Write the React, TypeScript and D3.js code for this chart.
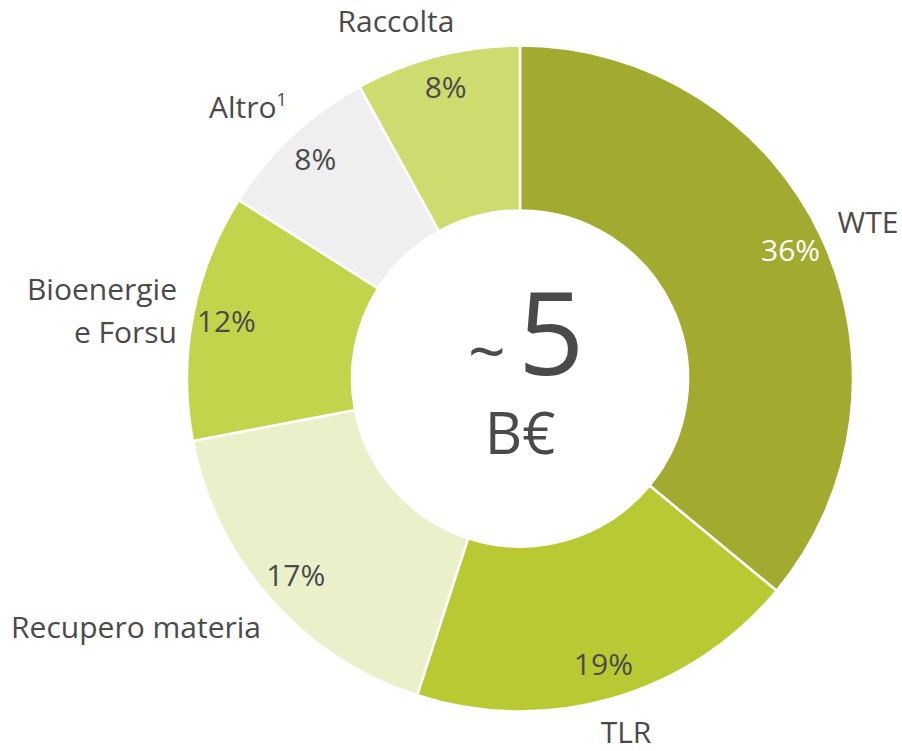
import React from "react";
import * as d3 from "d3";

const categories = ["WTE", "TLR", "Recupero materia", "Bioenergie e Forsu", "Altro", "Raccolta"];
const shares = [36, 19, 17, 12, 8, 8];
const percentLabels = ["36%", "19%", "17%", "12%", "8%", "8%"];

const sliceColors = ["#A2AA2F", "#B8C934", "#EAF0CA", "#C2D44C", "#EFEFEF", "#CEDB6E"];
const pctColors = ["#FFFFFF", "#4A4A4A", "#4A4A4A", "#4A4A4A", "#4A4A4A", "#4A4A4A"];

// layout of the outer category labels (positions only, not data)
const outerLayout: Record<string, { x: number; y: number; anchor: string; lines: string[]; sup?: string }> = {
  "WTE": { x: 868, y: 233, anchor: "middle", lines: ["WTE"] },
  "TLR": { x: 626, y: 743, anchor: "middle", lines: ["TLR"] },
  "Recupero materia": { x: 261, y: 638, anchor: "end", lines: ["Recupero materia"] },
  "Bioenergie e Forsu": { x: 177, y: 300, anchor: "end", lines: ["Bioenergie", "e Forsu"] },
  "Altro": { x: 209, y: 118, anchor: "start", lines: ["Altro"], sup: "1" },
  "Raccolta": { x: 396, y: 32, anchor: "middle", lines: ["Raccolta"] },
};

const W = 902;
const H = 751;
const cx = 520;
const cy = 378.5;
const outerR = 333;
const innerR = 168;
const FONT = "'Open Sans', 'Noto Sans', sans-serif";

export default function App() {
  const pie = d3.pie<number>().sort(null).value((d) => d).startAngle(0).endAngle(2 * Math.PI);
  const arcs = pie(shares);
  const arcGen = d3.arc<d3.PieArcDatum<number>>().innerRadius(innerR).outerRadius(outerR);
  const labelArc = d3.arc<d3.PieArcDatum<number>>().innerRadius(299).outerRadius(299);

  return (
    <svg width={W} height={H} style={{ position: "absolute", left: 0, top: 0, background: "#fff" }}>
      <g transform={`translate(${cx},${cy})`}>
        {arcs.map((a, i) => (
          <path key={i} d={arcGen(a) || ""} fill={sliceColors[i]} stroke="#FFFFFF" strokeWidth={2.5} />
        ))}
        {arcs.map((a, i) => {
          const [x, y] = labelArc.centroid(a);
          return (
            <text key={"p" + i} x={x} y={y - 2} textAnchor="middle" dominantBaseline="central"
              fontFamily={FONT} fontSize={30} fill={pctColors[i]}>
              {percentLabels[i]}
            </text>
          );
        })}
        <text x={-52} y={-4} textAnchor="start" fontFamily={FONT} fill="#4A4A4A" fontSize={66}>~</text>
        <text x={-2} y={-4} textAnchor="start" fontFamily={FONT} fill="#4A4A4A" fontSize={116}>5</text>
        <text x={0} y={75} textAnchor="middle" fontFamily={FONT} fontSize={58} fill="#4A4A4A">B€</text>
      </g>
      {categories.map((c) => {
        const l = outerLayout[c];
        return (
          <text key={c} x={l.x} y={l.y} textAnchor={l.anchor} fontFamily={FONT} fontSize={30} fill="#4A4A4A">
            {l.lines.map((ln, j) => (
              <tspan key={j} x={l.x} dy={j === 0 ? 0 : 43}>{ln}{j === 0 && l.sup ? <tspan fontSize={18} dy={-12}>{l.sup}</tspan> : null}</tspan>
            ))}
          </text>
        );
      })}
    </svg>
  );
}
